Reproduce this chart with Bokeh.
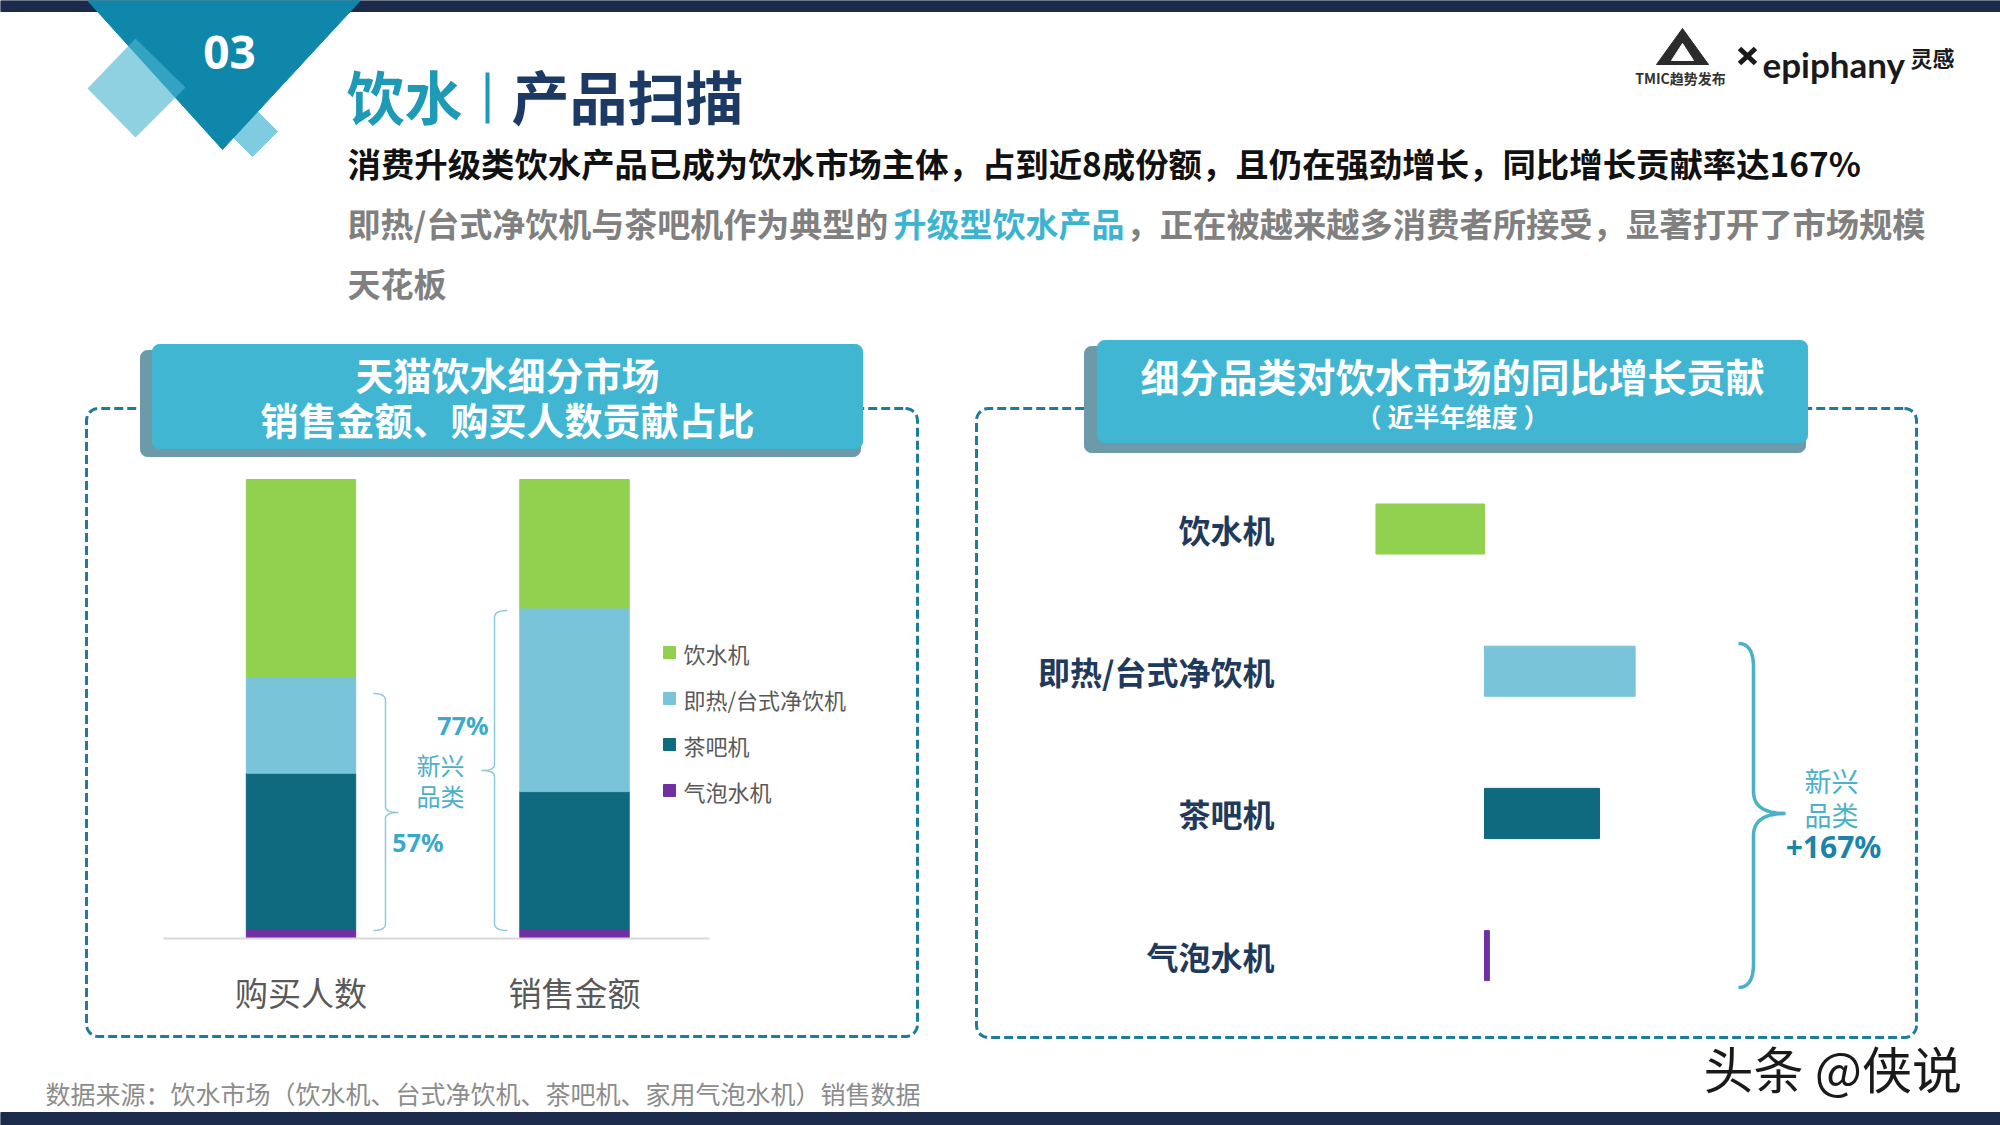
import numpy as np
from bokeh.plotting import figure
from bokeh.models import Range1d, ColumnDataSource
from bokeh.core.properties import value
from bokeh.embed import file_html
from bokeh.resources import INLINE

# ---------------- data ----------------
share_categories = ["购买人数", "销售金额"]
series_names = ["饮水机", "即热/台式净饮机", "茶吧机", "气泡水机"]
series_colors = ["#92d050", "#79c4d9", "#0f697f", "#7030a0"]
share_yinshuiji = [43, 28]
share_jire = [21, 40]
share_chabaji = [34, 30]
share_qipao = [2, 2]
emerging_share_labels = ["57%", "77%"]

growth_categories = ["饮水机", "即热/台式净饮机", "茶吧机", "气泡水机"]
growth_values = [-67, 93, 71, 3]
growth_total_label = "+167%"

# ---------------- canvas ----------------
CJK = value("Noto Sans CJK SC")
W, H = 2000, 1125
X0, X1, Y0, Y1 = 0, W, 0, H

p = figure(width=W, height=H, x_range=Range1d(X0, X1), y_range=Range1d(Y1, Y0),
           x_axis_type=None, y_axis_type=None, output_backend="svg",
           toolbar_location=None, min_border=0, outline_line_color=None,
           background_fill_color="white", border_fill_color="white")
p.grid.visible = False


def lin_x(a, b):
    return Range1d(start=(X0 - a) / b, end=(X1 - a) / b)


def lin_y(a, b):
    return Range1d(start=(Y1 - a) / b, end=(Y0 - a) / b)


p.extra_x_ranges = {"share_x": lin_x(300.5, 273.5), "growth_x": lin_x(1484, 1.62)}
p.extra_y_ranges = {"share_y": lin_y(938, -4.59), "growth_y": lin_y(528.5, 142.2)}


def txt(x, y, s, size, color, bold=False, align="left", font=CJK, baseline="middle", **kw):
    p.text(x=[x], y=[y], text=[s], text_font=font, text_font_size=f"{size}px",
           text_font_style="bold" if bold else "normal", text_color=color,
           text_align=align, text_baseline=baseline, **kw)


def rrect(x0, y0, x1, y1, r, n=8):
    xs, ys = [], []
    for cx, cy, a0 in [(x1 - r, y0 + r, -90), (x1 - r, y1 - r, 0), (x0 + r, y1 - r, 90), (x0 + r, y0 + r, 180)]:
        for k in range(n + 1):
            a = np.radians(a0 + 90 * k / n)
            xs.append(cx + r * np.cos(a))
            ys.append(cy + r * np.sin(a))
    xs.append(xs[0]); ys.append(ys[0])
    return xs, ys


def quad_curve(p0, c, p1, n=14):
    t = np.linspace(0, 1, n)
    x = (1 - t) ** 2 * p0[0] + 2 * (1 - t) * t * c[0] + t ** 2 * p1[0]
    y = (1 - t) ** 2 * p0[1] + 2 * (1 - t) * t * c[1] + t ** 2 * p1[1]
    return list(x), list(y)


def brace(x_end, x_mid, x_tip, y_top, y_mid, y_bot, r_end, r_tip):
    xs, ys = [], []
    for seg in [((x_end, y_top), (x_mid, y_top), (x_mid, y_top + r_end)),
                ((x_mid, y_mid - r_tip), (x_mid, y_mid), (x_tip, y_mid)),
                ((x_tip, y_mid), (x_mid, y_mid), (x_mid, y_mid + r_tip)),
                ((x_mid, y_bot - r_end), (x_mid, y_bot), (x_end, y_bot))]:
        a, b = quad_curve(*seg)
        xs += a; ys += b
    return xs, ys


# ---------------- top decoration ----------------
p.quad(left=0, right=2000, top=0, bottom=11, color="#1c2b4b")
p.quad(left=0, right=2000, top=1112, bottom=1125, color="#1c2b4b")
p.patch([227, 252, 277, 252], [131, 106, 131, 156], color="#7fcbe0")
p.patch([87, 360, 222], [0, 0, 149], color="#0f87ab")
p.patch([87, 135, 185, 135], [88, 38, 87, 137], fill_color="#4ab5ce", fill_alpha=0.62, line_alpha=0)
txt(229, 52, "03", 46, "white", bold=True, align="center", font=value("Noto Sans"))

# title
txt(346, 94, "饮水", 58, "#1f9ab6", bold=True)
p.segment(x0=[487], y0=[72], x1=[487], y1=[123], line_width=4, color="#1f9ab6")
txt(511, 94, "产品扫描", 58, "#1c3a63", bold=True)

txt(347, 162, "消费升级类饮水产品已成为饮水市场主体，占到近8成份额，且仍在强劲增长，同比增长贡献率达167%", 33.4, "#111111", bold=True)
txt(347, 222, "即热/台式净饮机与茶吧机作为典型的", 33, "#808080", bold=True)
txt(893, 222, "升级型饮水产品", 33, "#3cb4d1", bold=True)
txt(1126, 222, "，正在被越来越多消费者所接受，显著打开了市场规模", 33.3, "#808080", bold=True)
txt(347, 282, "天花板", 33, "#808080", bold=True)

# logo
p.patch([1656, 1682, 1708], [64, 28, 64], color="#2b2b2b")
p.patch([1671, 1682, 1693], [60, 43, 60], color="white")
txt(1680, 77, "TMIC趋势发布", 14, "#333333", bold=True, align="center")
p.segment(x0=[1739, 1755], y0=[48, 48], x1=[1755, 1739], y1=[63, 63], line_width=5, color="#1a1a1a")
txt(1762, 63, "epiphany", 35, "#1a1a1a", bold=True, font=value("Lato"), baseline="alphabetic")
txt(1910, 56, "灵感", 22, "#1a1a1a", bold=True)

# ---------------- panels ----------------
for box in [(86, 408, 917, 1036), (976, 408, 1916, 1037)]:
    xs, ys = rrect(*box, 12)
    p.line(xs, ys, line_dash="9 4", line_width=3, color="#1d7b9c")

for shadow, main in [((140, 350, 860, 456), (152, 344, 862, 448)),
                     ((1084, 346, 1805, 452), (1097, 340, 1807, 442))]:
    xs, ys = rrect(*shadow, 7)
    p.patch(xs, ys, color="#6d9aa9")
    xs, ys = rrect(*main, 7)
    p.patch(xs, ys, color="#40b6d2")

txt(507, 373, "天猫饮水细分市场", 38, "white", bold=True, align="center")
txt(507, 418, "销售金额、购买人数贡献占比", 38, "white", bold=True, align="center")
txt(1452, 374, "细分品类对饮水市场的同比增长贡献", 39, "white", bold=True, align="center")
txt(1452, 415, "（ 近半年维度 ）", 26, "white", bold=True, align="center")

# ---------------- left chart: stacked shares ----------------
src = ColumnDataSource(dict(idx=list(range(len(share_categories))), cat=share_categories,
                            s0=share_yinshuiji, s1=share_jire, s2=share_chabaji, s3=share_qipao))
p.vbar_stack(["s3", "s2", "s1", "s0"], x="idx", width=0.4,
             color=[series_colors[3], series_colors[2], series_colors[1], series_colors[0]],
             source=src, x_range_name="share_x", y_range_name="share_y")
p.segment(x0=[163], x1=[709], y0=[0], y1=[0], y_range_name="share_y", line_width=2, color="#d9d9d9")
p.text(x="idx", y=991, text="cat", source=src, x_range_name="share_x",
       text_font=CJK, text_font_size="33px", text_color="#595959", text_align="center",
       text_baseline="middle")

# legend
leg = ColumnDataSource(dict(name=series_names, color=series_colors,
                            y=[652 + 46 * i for i in range(len(series_names))]))
p.rect(x=669, y="y", width=12, height=12, color="color", source=leg)
p.text(x=683, y="y", text="name", source=leg, text_font=CJK, text_font_size="22px",
       text_color="#595959", text_align="left", text_baseline="middle")

# brackets & emerging labels
bx, by = brace(373, 385, 398, 693, 812, 930, 7, 6)
p.line(bx, by, line_width=1.5, color="#8ccad9")
bx, by = brace(507, 494, 481, 610, 770, 930, 7, 6)
p.line(bx, by, line_width=1.5, color="#8ccad9")
txt(488, 724, emerging_share_labels[1], 25, "#3aaac8", bold=True, align="right", font=value("Noto Sans"))
txt(440, 764, "新兴", 24, "#4bb0c8", align="center")
txt(440, 795, "品类", 24, "#4bb0c8", align="center")
txt(443, 841, emerging_share_labels[0], 25, "#3aaac8", bold=True, align="right", font=value("Noto Sans"))

# ---------------- right chart: growth contribution ----------------
gsrc = ColumnDataSource(dict(idx=list(range(len(growth_categories))), cat=growth_categories,
                             v=growth_values, zero=[0] * len(growth_values), color=series_colors))
p.hbar(y="idx", left="zero", right="v", height=0.352, color="color", source=gsrc,
       x_range_name="growth_x", y_range_name="growth_y")
p.text(x=1274, y="idx", text="cat", source=gsrc, y_range_name="growth_y",
       text_font=CJK, text_font_size="32px", text_font_style="bold", text_color="#1f3a5c",
       text_align="right", text_baseline="middle")

bx, by = brace(1738, 1753, 1785, 643, 813, 987, 24, 22)
p.line(bx, by, line_width=3.5, color="#4bb0c8")
txt(1831, 780, "新兴", 27, "#4bb0c8", align="center")
txt(1831, 814, "品类", 27, "#4bb0c8", align="center")
txt(1833, 846, growth_total_label, 30, "#1b84a8", bold=True, align="center", font=value("Noto Sans"))

# ---------------- footer ----------------
txt(45, 1092, "数据来源：饮水市场（饮水机、台式净饮机、茶吧机、家用气泡水机）销售数据", 25, "#8c8c8c")
txt(1703, 1066, "头条 @侠说", 50, "#1a1a1a")

open("out.html", "w").write(file_html(p, INLINE))
